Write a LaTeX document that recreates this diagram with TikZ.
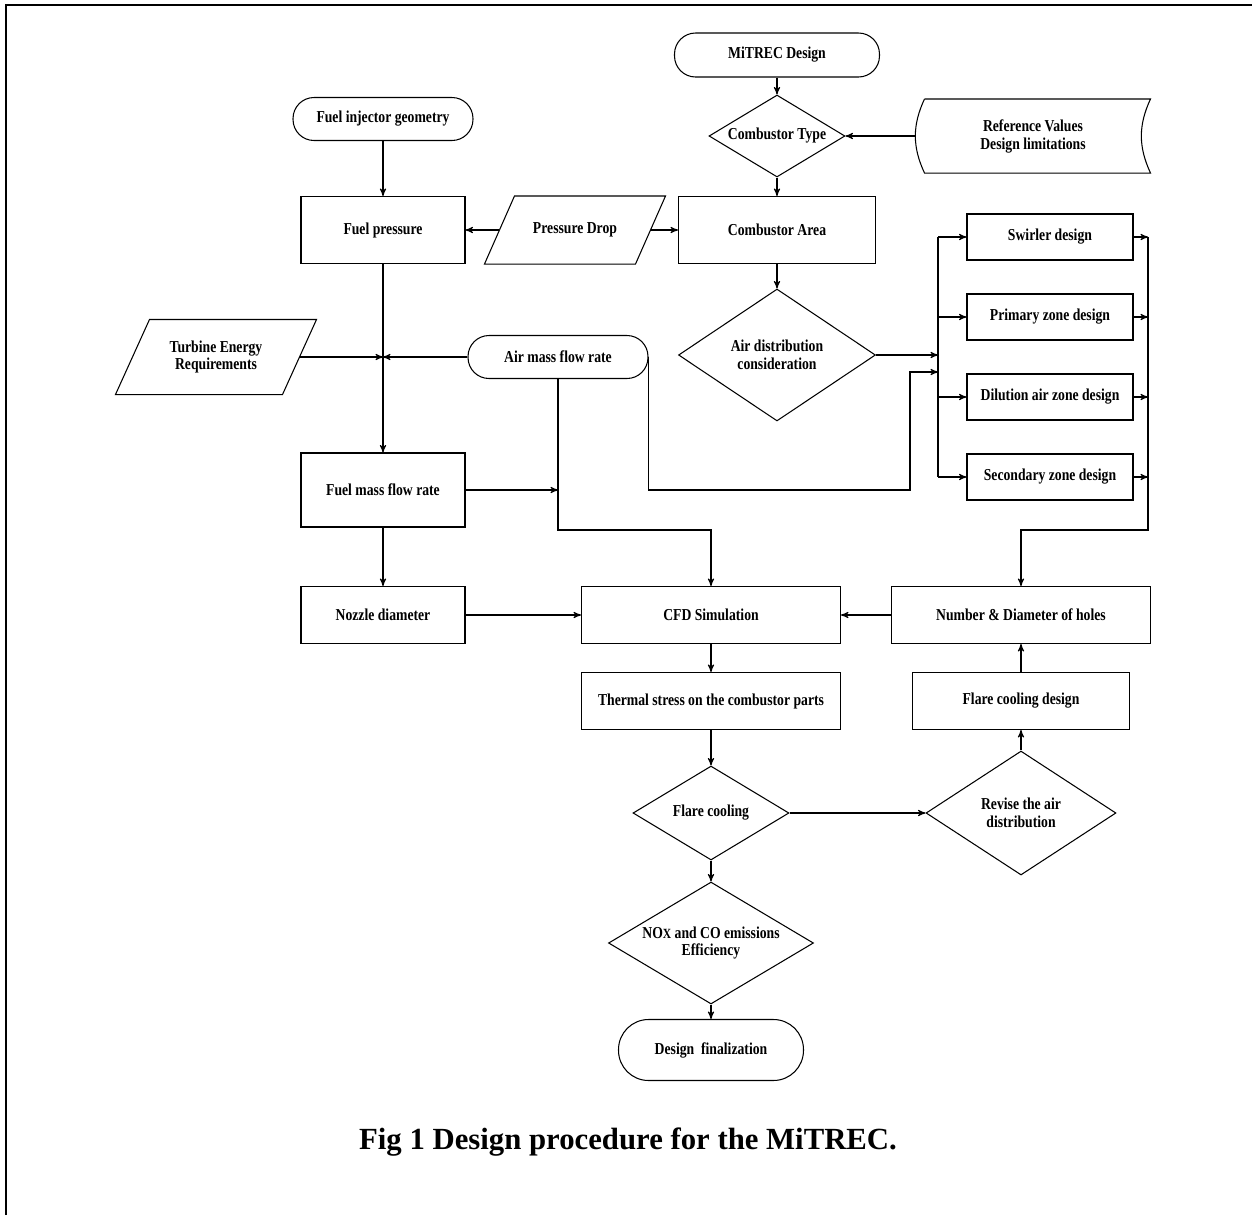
\documentclass[tikz,border=0pt]{standalone}
\usepackage{fontspec}
\setmainfont{Liberation Serif}
\newfontfamily\boxfont[FakeStretch=0.82]{Liberation Serif}
\usepackage{tikz}
\usetikzlibrary{arrows,shapes.geometric}

\begin{document}
\begin{tikzpicture}[x=0.02cm,y=-0.02cm,->,>=stealth',semithick,
                    every node/.style={font=\boxfont\bfseries\fontsize{9.5}{10.2}\selectfont,
                                       align=center,inner sep=0pt},
                    proc/.style={draw,rectangle,minimum height=1.14cm},
                    term/.style={draw,rectangle,rounded corners=0.42cm,minimum height=0.86cm},
                    decision/.style={draw,diamond,aspect=1.6},
                    io/.style={rectangle},
                    store/.style={rectangle}]

	\useasboundingbox (0,0) rectangle (1252,1215);
	\draw[-,line width=1.4pt] (6,1215) -- (6,5) -- (1252,5);

  	\node[term,minimum width=4.1cm,minimum height=0.88cm] (MD) at (777,55) {MiTREC Design};
  	\node[decision,minimum width=2.72cm,minimum height=1.64cm] (CT) at (777,136) {Combustor Type};
  	\node[store,minimum width=4.68cm,minimum height=1.46cm] (RV) at (1033,136) {Reference Values\\Design limitations};
  	\node[term,minimum width=3.6cm] (FI) at (383,119) {Fuel injector geometry};
  	\node[proc,minimum width=3.28cm,minimum height=1.34cm] (FP) at (383,230) {Fuel pressure};
  	\node[io,minimum width=3cm,minimum height=1.34cm] (PD) at (575,230) {Pressure Drop};
  	\node[proc,minimum width=3.94cm,minimum height=1.34cm] (CA) at (777,230) {Combustor Area};
  	\node[decision,minimum width=3.94cm,minimum height=2.64cm] (AD) at (777,355) {Air distribution\\consideration};

  	\node[proc,minimum width=3.32cm,minimum height=0.92cm] (SW) at (1050,237) {Swirler design};
  	\node[proc,minimum width=3.32cm,minimum height=0.92cm] (PZ) at (1050,317) {Primary zone design};
  	\node[proc,minimum width=3.32cm,minimum height=0.92cm] (DZ) at (1050,397) {Dilution air zone design};
  	\node[proc,minimum width=3.32cm,minimum height=0.92cm] (SZ) at (1050,477) {Secondary zone design};

  	\node[io,minimum width=3.32cm,minimum height=1.48cm] (TE) at (216,357) {Turbine Energy\\Requirements};
  	\node[term,minimum width=3.6cm] (AM) at (558,357) {Air mass flow rate};
  	\node[proc,minimum width=3.28cm,minimum height=1.48cm] (FM) at (383,490) {Fuel mass flow rate};
  	\node[proc,minimum width=3.28cm] (ND) at (383,615) {Nozzle diameter};
  	\node[proc,minimum width=5.18cm] (CFD) at (711,615) {CFD Simulation};
  	\node[proc,minimum width=5.18cm] (NH) at (1021,615) {Number \& Diameter of holes};
  	\node[proc,minimum width=5.18cm] (TS) at (711,701) {Thermal stress on the combustor parts};
  	\node[proc,minimum width=4.34cm] (FD) at (1021,701) {Flare cooling design};
  	\node[decision,minimum width=3.12cm,minimum height=1.88cm] (FC) at (711,813) {Flare cooling};
  	\node[decision,minimum width=3.8cm,minimum height=2.48cm] (RA) at (1021,813) {Revise the air\\distribution};
  	\node[decision,minimum width=4.1cm,minimum height=2.44cm] (NX) at (711,943) {NO{\fontsize{8}{9}\selectfont X} and CO emissions\\Efficiency};
  	\node[term,minimum width=3.7cm,minimum height=1.22cm,rounded corners=0.6cm] (DF) at (711,1050) {Design~ finalization};

  	\node[font=\bfseries\fontsize{17.5}{20}\selectfont] (cap) at (628,1142) {Fig 1 Design procedure for the MiTREC.};

	% slanted and curved outlines
  	\foreach \n/\s in {PD/15,TE/17}
  	  \draw[-] ([shift={(\s,0)}]\n.north west) -- ([shift={(\s,0)}]\n.north east)
  	        -- ([shift={(-\s,0)}]\n.south east) -- ([shift={(-\s,0)}]\n.south west) -- cycle;
  	\draw[-] ([shift={(9,0)}]RV.north west) -- (RV.north east) to[bend right=25] (RV.south east)
  	      -- ([shift={(9,0)}]RV.south west) to[bend left=25] ([shift={(9,0)}]RV.north west);

  	\coordinate (J1) at (FP |- AM);
  	\coordinate (J2) at (AM |- FM);
  	\coordinate (B1) at (938,355);
  	\coordinate (B2) at (938,372);
  	\coordinate (R) at (1148,237);

  	\path (MD) edge (CT);
  	\path (CT) edge (CA);
  	\path (RV) edge (CT);
  	\path (FI) edge (FP);
  	\path (PD) edge (FP);
  	\path (PD) edge (CA);
  	\path (CA) edge (AD);
  	\path (FP) edge (FM);
  	\path (TE) edge (J1);
  	\path (AM) edge (J1);
  	\path (FM) edge (J2);
  	\path (FM) edge (ND);
  	\path (ND) edge (CFD);
  	\path (NH) edge (CFD);
  	\path (CFD) edge (TS);
  	\path (TS) edge (FC);
  	\path (FC) edge (RA);
  	\path (FC) edge (NX);
  	\path (NX) edge (DF);
  	\path (RA) edge (FD);
  	\path (FD) edge (NH);
  	\path (AD) edge (B1);

  	\draw (AM) -- (558,530) -| (CFD);
  	\draw (AM.east) -- (AM.east |- FM) -| (910,372) -- (B2);

  	\draw[-] (SW.west -| B1) -- (SZ.west -| B1);
  	\foreach \z in {SW,PZ,DZ,SZ} {
  	  \draw (\z.west -| B1) -- (\z.west);
  	  \draw (\z.east) -- (\z.east -| R);
  	}
  	\draw (R) -- (1148,530) -| (NH);

\end{tikzpicture}
\end{document}
